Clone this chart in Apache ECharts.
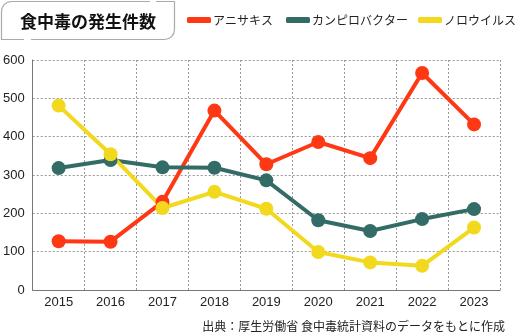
<!DOCTYPE html>
<html><head><meta charset="utf-8">
<script src="https://cdn.jsdelivr.net/npm/echarts@6/dist/echarts.min.js"></script>
<style>html,body{margin:0;padding:0;background:#fff}#c{width:515px;height:335px}</style>
</head><body><div id="c"></div>
<script>
const years = ['2015','2016','2017','2018','2019','2020','2021','2022','2023'];
const anisakis = [127,126,230,468,328,386,344,566,432];
const campylobacter = [318,339,320,319,286,182,154,185,211];
const norovirus = [481,354,214,256,212,99,72,63,163];
const seriesNames = ['アニサキス','カンピロバクター','ノロウイルス'];
const colors = ['#FF3814','#336B66','#F2D91E'];
const yTicks = [0,100,200,300,400,500,600];

const chart = echarts.init(document.getElementById('c'));
const font = '"Noto Sans CJK JP", "Noto Sans", sans-serif';
function mk(name, data, color){
  return {name, type:'line', data, color, symbol:'circle', symbolSize:14,
    lineStyle:{width:4, color}, itemStyle:{color}, z: 2};
}
const legendLefts = [187, 286, 418];
chart.setOption({
  animation:false,
  textStyle:{fontFamily:font},
  grid:{left:32, right:15, top:60, bottom:45},
  legend: seriesNames.map((n, i) => ({
    top:14, left:legendLefts[i], padding:0, itemWidth:24, itemHeight:6,
    icon:'roundRect',
    textStyle:{fontSize:12, color:'#222', fontFamily:font, padding:[0,0,0,-3]},
    data:[n]
  })),
  xAxis:{type:'category', data:years, boundaryGap:true,
    axisLine:{lineStyle:{color:'#777', width:1}},
    axisTick:{show:false},
    axisLabel:{color:'#222', fontSize:13, margin:6, fontFamily:'Liberation Sans, Arial, sans-serif'},
    splitLine:{show:true, interval:0, lineStyle:{color:'#999', type:[2,2], width:1}}
  },
  yAxis:{type:'value', min:0, max:600, interval:100,
    axisLine:{show:true, lineStyle:{color:'#777', width:1}},
    axisTick:{show:false},
    axisLabel:{color:'#222', fontSize:13, margin:8, fontFamily:'Liberation Sans, Arial, sans-serif',
      formatter: v => yTicks.includes(v) ? String(v) : ''},
    splitLine:{show:true, lineStyle:{color:'#999', type:[2,2], width:1}}
  },
  series:[mk(seriesNames[0], anisakis, colors[0]), mk(seriesNames[1], campylobacter, colors[1]), mk(seriesNames[2], norovirus, colors[2])],
  graphic:[
    {type:'rect', shape:{x:1.5, y:1.5, width:173, height:38, r:[10,0,10,0]},
      style:{fill:'#fff', stroke:'#aaa', lineWidth:1.2}},
    {type:'rect', shape:{x:150, y:0, width:6, height:4}, style:{fill:'#fff'}},
    {type:'rect', shape:{x:24, y:37, width:7, height:4}, style:{fill:'#fff'}},
    {type:'text', x:88, y:22, style:{text:'食中毒の発生件数', align:'center', verticalAlign:'middle',
      font:'bold 17px "Noto Sans CJK JP", sans-serif', fill:'#111'}},
    {type:'text', x:505, y:326, style:{text:'出典：厚生労働省 食中毒統計資料のデータをもとに作成', align:'right', verticalAlign:'middle',
      font:'12px "Noto Sans CJK JP", sans-serif', fill:'#222'}}
  ]
});
</script></body></html>
